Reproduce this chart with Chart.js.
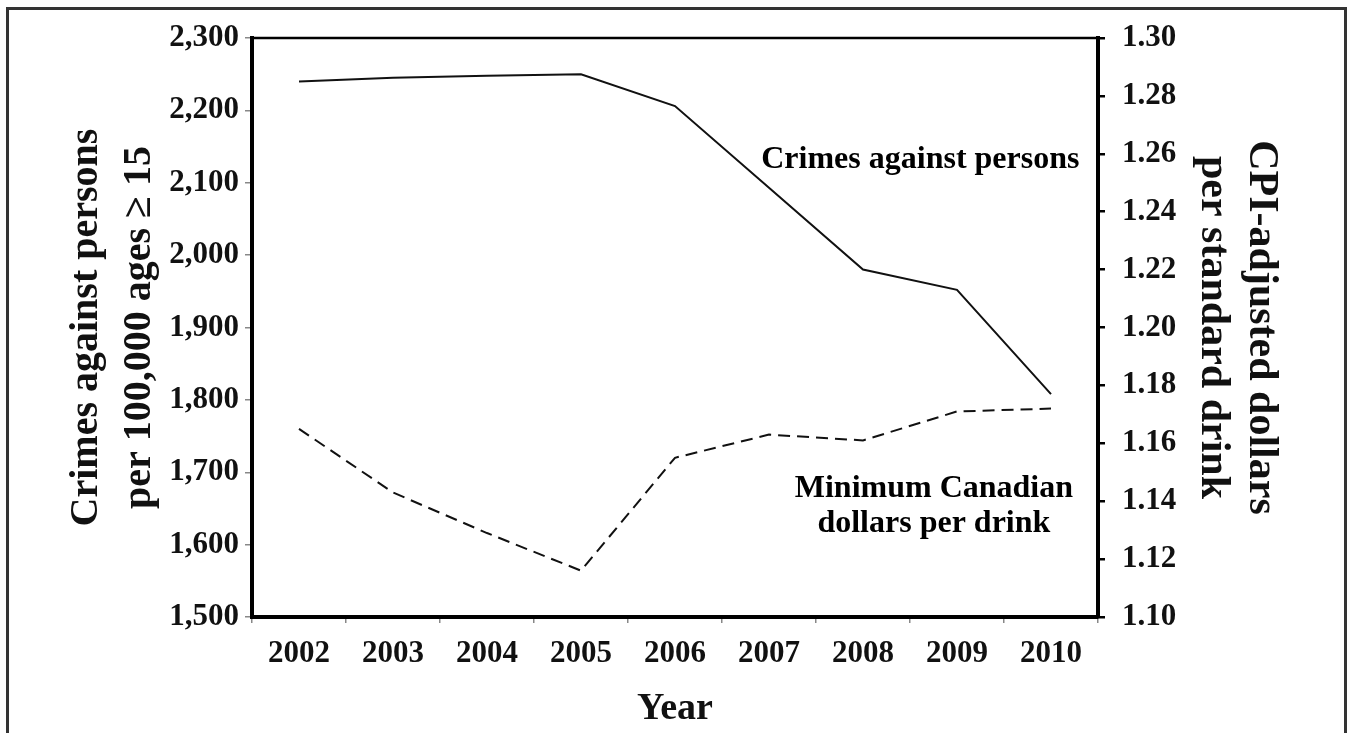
<!DOCTYPE html>
<html>
<head>
<meta charset="utf-8">
<script src="https://cdn.jsdelivr.net/npm/chart.js@4.4.0/dist/chart.umd.min.js"></script>
<style>
    html, body { margin: 0; padding: 0; background: #fff; overflow: hidden; }
    #frame { position: absolute; left: 6px; top: 7px; width: 1335px; height: 780px; border: 3px solid #333; }
    #wrap { position: absolute; left: 0; top: 0; width: 1351px; height: 733px; }
</style>
</head>
<body>
<div id="frame"></div>
<div id="wrap"><canvas id="lineChart" width="1351" height="733"></canvas></div>
<script>
const years = ['2002', '2003', '2004', '2005', '2006', '2007', '2008', '2009', '2010'];
const crimeRates = [2240, 2245, 2248, 2250, 2206, 2093, 1980, 1952, 1808];
const drinkPrices = [1.165, 1.143, 1.129, 1.116, 1.155, 1.163, 1.161, 1.171, 1.172];

const serif = "'Liberation Serif', 'Times New Roman', serif";

// top edge of the plot box and the two text labels inside it
const boxAndLabels = {
    id: 'boxAndLabels',
    afterDatasetsDraw(chart) {
        const ctx = chart.ctx;
        const a = chart.chartArea;
        const w = a.right - a.left;
        const h = a.bottom - a.top;
        ctx.save();
        ctx.strokeStyle = '#000';
        ctx.lineWidth = 2.5;
        ctx.beginPath();
        ctx.moveTo(a.left, a.top);
        ctx.lineTo(a.right, a.top);
        ctx.stroke();

        ctx.fillStyle = '#000';
        ctx.font = 'bold 32px ' + serif;
        ctx.textAlign = 'center';
        ctx.textBaseline = 'alphabetic';
        ctx.fillText('Crimes against persons', a.left + w * 0.79, a.top + h * 0.225);
        ctx.fillText('Minimum Canadian', a.left + w * 0.806, a.top + h * 0.793);
        ctx.fillText('dollars per drink', a.left + w * 0.806, a.top + h * 0.853);
        ctx.restore();
    }
};

const ctx = document.getElementById('lineChart');

new Chart(ctx, {
    type: 'line',
    data: {
        labels: years,
        datasets: [{
            label: 'Crimes against persons',
            data: crimeRates,
            yAxisID: 'y',
            borderColor: '#111',
            borderWidth: 2,
            pointRadius: 0,
            tension: 0
        }, {
            label: 'Minimum Canadian dollars per drink',
            data: drinkPrices,
            yAxisID: 'y1',
            borderColor: '#111',
            borderWidth: 2,
            borderDash: [12, 7],
            pointRadius: 0,
            tension: 0
        }]
    },
    options: {
        responsive: false,
        animation: false,
        devicePixelRatio: 1,
        layout: { padding: { top: 38, left: 0, right: 0, bottom: 0 } },
        plugins: {
            legend: { display: false },
            tooltip: { enabled: false }
        },
        scales: {
            x: {
                offset: true,
                grid: { offset: true, drawOnChartArea: false, drawTicks: true, tickLength: 6, color: '#888', lineWidth: 1.5 },
                border: { display: true, color: '#000', width: 4 },
                ticks: { color: '#111', padding: 12, font: { family: serif, size: 31, weight: 'bold' } },
                title: {
                    display: true,
                    text: 'Year',
                    color: '#111',
                    padding: { top: 0, bottom: 1 },
                    font: { family: serif, size: 38, weight: 'bold' }
                },
                afterFit(s) { s.height = 116; }
            },
            y: {
                position: 'left',
                min: 1500,
                max: 2300,
                grid: { drawOnChartArea: false, drawTicks: true, tickLength: 7, color: '#888', lineWidth: 1.5 },
                border: { display: true, color: '#000', width: 4 },
                ticks: {
                    stepSize: 100,
                    color: '#111',
                    padding: 6,
                    font: { family: serif, size: 31, weight: 'bold' },
                    callback: (v) => v.toLocaleString('en-US')
                },
                title: {
                    display: true,
                    text: ['Crimes against persons', 'per 100,000 ages \u2265 15'],
                    color: '#111',
                    padding: { top: 60, bottom: 0 },
                    font: { family: serif, size: 40, weight: 'bold', lineHeight: 1.33 }
                },
                afterFit(s) { s.width = 252; }
            },
            y1: {
                position: 'right',
                min: 1.10,
                max: 1.30,
                grid: { drawOnChartArea: false, drawTicks: true, tickLength: 7, color: '#000', lineWidth: 2.5 },
                border: { display: true, color: '#000', width: 4 },
                ticks: {
                    stepSize: 0.02,
                    color: '#111',
                    padding: 17,
                    font: { family: serif, size: 31, weight: 'bold' },
                    callback: (v) => v.toFixed(2)
                },
                title: {
                    display: true,
                    text: ['CPI-adjusted dollars', 'per standard drink'],
                    color: '#111',
                    padding: { top: 66, bottom: 0 },
                    font: { family: serif, size: 42, weight: 'bold', lineHeight: 1.15 }
                },
                afterFit(s) { s.width = 253; }
            }
        }
    },
    plugins: [boxAndLabels]
});
</script>
</body>
</html>
